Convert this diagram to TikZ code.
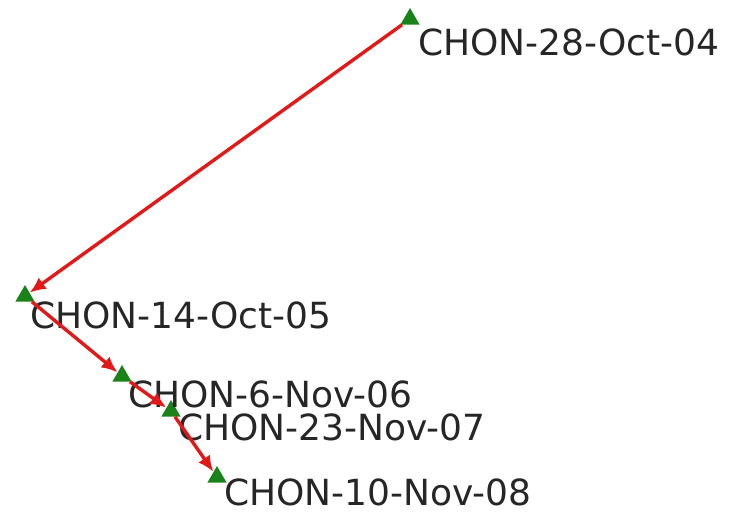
\documentclass[tikz,border=0pt]{standalone}
\usepackage{fontspec}
\setmainfont{DejaVu Sans}
\usetikzlibrary{shapes.geometric,arrows.meta}
\definecolor{mkgreen}{RGB}{25,130,25}
\definecolor{lnred}{RGB}{225,25,25}
\begin{document}
\begin{tikzpicture}[x=1pt,y=-1pt,
  tri/.style={regular polygon,regular polygon sides=3,fill=mkgreen,draw=none,minimum size=22pt,inner sep=0pt},
  lbl/.style={anchor=base west,inner sep=0pt,font=\fontsize{36}{40}\selectfont,text=black!85},
  link/.style={draw=lnred,line width=3.4pt,-{Latex[length=16pt,width=14pt]}}]
\useasboundingbox (0,0) rectangle (745,517);
\fill[white] (0,0) rectangle (745,517);
\node[tri] (p1) at (410,19) {};
\node[tri] (p2) at (25,296) {};
\node[tri] (p3) at (122,376) {};
\node[tri] (p4) at (171,411) {};
\node[tri] (p5) at (217,477) {};
\node[lbl] (l1) at (418,55) {CHON-28-Oct-04};
\node[lbl] (l2) at (30,328) {CHON-14-Oct-05};
\node[lbl] (l3) at (128,407) {CHON-6-Nov-06};
\node[lbl] (l4) at (178,440) {CHON-23-Nov-07};
\node[lbl] (l5) at (224,505) {CHON-10-Nov-08};
\draw[link] (p1) -- (p2);
\draw[link] (p2) -- (p3);
\draw[link] (p3) -- (p4);
\draw[link] (p4) -- (p5);
\end{tikzpicture}
\end{document}
